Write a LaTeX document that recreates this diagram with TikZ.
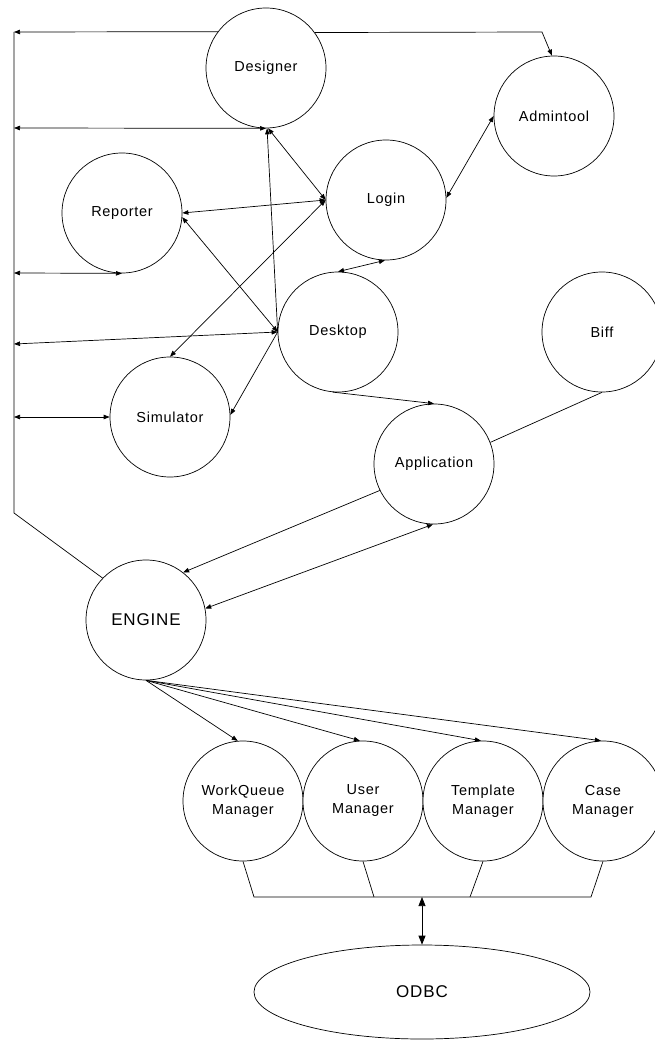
\documentclass[tikz,border=0pt]{standalone}
\usepackage{fontspec}
\setmainfont{Liberation Sans}
\newfontfamily\lblfont[LetterSpace=5]{Liberation Sans}
\usetikzlibrary{arrows.meta,shapes.geometric}
\begin{document}
\begin{tikzpicture}[x=1pt,y=-1pt,
  proc/.style={circle,draw,fill=white,line width=0.7pt,minimum size=120pt,inner sep=0pt,
    font=\lblfont\fontsize{14.5}{19}\selectfont,align=center},
  link/.style={line width=0.7pt},
  oneway/.style={link,-{Triangle[length=6pt,width=4.5pt]}},
  twoway/.style={link,{Triangle[length=6pt,width=4.5pt]}-{Triangle[length=6pt,width=4.5pt]}},
  fatway/.style={link,{Triangle[length=9pt,width=7pt]}-{Triangle[length=9pt,width=7pt]}},
 ]
\useasboundingbox (0,0) rectangle (654,1040);

% client programs
\node[proc] (designer)    at (266,68)  {Designer};
\node[proc] (admintool)   at (554,116) {Admintool};
\node[proc] (login)       at (386,200) {Login};
\node[proc] (reporter)    at (122,213) {Reporter};
\node[proc] (desktop)     at (338,332) {Desktop};
\node[proc] (biff)        at (602,332) {Biff};
\node[proc] (simulator)   at (170,417) {Simulator};
\node[proc] (application) at (434,464) {Application};
\node[proc,font=\lblfont\fontsize{17}{20}\selectfont] (engine) at (146,620) {ENGINE};

% managers
\node[proc] (wq) at (243,801) {WorkQueue\\Manager};
\node[proc] (um) at (363,801) {User\\Manager};
\node[proc] (tm) at (483,801) {Template\\Manager};
\node[proc] (cm) at (603,801) {Case\\Manager};

\node[ellipse,draw,line width=0.7pt,minimum width=336pt,minimum height=94pt,inner sep=0pt,
  font=\lblfont\fontsize{17}{20}\selectfont] (odbc) at (422,992) {ODBC};

% rail on the left
\coordinate (railtop) at (14,32);
\coordinate (railbot) at (14,513);
\coordinate (rdes)  at (14,128);
\coordinate (rrep)  at (14,273);
\coordinate (rdesk) at (14,344);
\coordinate (rsim)  at (14,417);
\coordinate (corner) at (542,32);

\draw[link] (engine.136) -- (railbot) -- (railtop);
\draw[oneway] (designer.143.13) -- (railtop);
\draw[oneway] (designer.36.87) -- (corner) -- (admintool.92);
\draw[twoway] (rdes) -- (designer.south);
\draw[twoway] (rrep) -- (reporter.south);
\draw[twoway] (rdesk) -- (desktop.180);
\draw[twoway] (rsim) -- (simulator.west);

% upper cluster
\draw[twoway] (designer.-88) -- (login.180);
\draw[oneway] (desktop.180) -- (designer.-89);
\draw[twoway] (reporter.0) -- (login.180);
\draw[twoway] (reporter.-4) -- (desktop.180);
\draw[twoway] (login.180) -- (simulator.north);
\draw[oneway] (desktop.180) -- (simulator.2);
\draw[twoway] (login.2) -- (admintool.180);
\draw[twoway] (login.-91) -- (desktop.north);
\draw[oneway] (desktop.-95) -- (application.north);
\draw[link] (biff.south) -- (application.21);

% application and engine
\draw[oneway] (application.206) -- (engine.52);
\draw[twoway] (engine.11) -- (application.-91);

% engine to managers
\draw[oneway] (engine.south) -- (wq.95);
\draw[oneway] (engine.south) -- (um.93);
\draw[oneway] (engine.south) -- (tm.92);
\draw[oneway] (engine.south) -- (cm.92);

% bus to the database
\coordinate (busl) at (254,897);
\coordinate (bus2) at (374,897);
\coordinate (bus3) at (470,897);
\coordinate (busr) at (591,897);
\coordinate (busm) at (422,897);
\draw[link] (wq.south) -- (busl) -- (busr) -- (cm.south);
\draw[link] (um.south) -- (bus2);
\draw[link] (tm.south) -- (bus3);
\draw[fatway] (busm) -- (odbc.north);
\end{tikzpicture}
\end{document}
